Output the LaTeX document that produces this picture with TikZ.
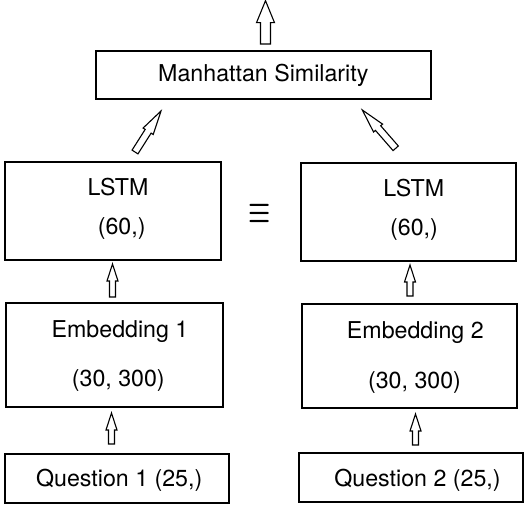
\documentclass[tikz,border=0pt]{standalone}
\usepackage{fontspec}
\setmainfont{TeX Gyre Heros}
\usetikzlibrary{calc}
\tikzset{
  box/.style={draw=black, line width=1.2pt, rectangle, inner sep=0pt},
  txt/.style={anchor=base, inner sep=0pt, font=\fontsize{23.2}{28}\selectfont},
  blockline/.style={draw=black, line width=1.1pt, line join=miter, fill=white},
  eqsign/.style={inner sep=0pt, yscale=1.45, font=\fontsize{27}{27}\selectfont\boldmath},
}
% hollow block arrow from named tail #1 to named tip #2
% #3 half shaft width, #4 half head width, #5 head length
\newcommand\blockarrow[5]{%
  \path ($(#2)!#5!(#1)$) coordinate (hb);
  \draw[blockline] ($(#1)!#3!90:(#2)$) -- ($(hb)!#3!90:(#2)$) -- ($(hb)!#4!90:(#2)$)
     -- (#2) -- ($(hb)!#4!-90:(#2)$) -- ($(hb)!#3!-90:(#2)$) -- ($(#1)!#3!-90:(#2)$) -- cycle;
}
\begin{document}
\begin{tikzpicture}[x=1pt,y=1pt]
\useasboundingbox (0,0) rectangle (526,509);
\fill[white] (0,0) rectangle (526,509);

% boxes
\node[box, minimum width=335pt, minimum height=48pt] (manh) at (263.5,434) {};
\node[box, minimum width=216pt, minimum height=98pt] (lstm1) at (113,298) {};
\node[box, minimum width=215pt, minimum height=98pt] (lstm2) at (408.5,297) {};
\node[box, minimum width=217pt, minimum height=104pt] (emb1) at (114.5,154) {};
\node[box, minimum width=215pt, minimum height=104pt] (emb2) at (409.5,153) {};
\node[box, minimum width=224pt, minimum height=49pt] (q1) at (117,30.5) {};
\node[box, minimum width=224pt, minimum height=49pt] (q2) at (411,31.5) {};

% texts
\node[txt] (tmanh) at (263.3,427.3) {Manhattan Similarity};
\node[txt] (tlstm1) at (118,313) {LSTM};
\node[txt] (tdim1) at (121.7,275) {(60,)};
\node[txt] (tlstm2) at (413.8,312.5) {LSTM};
\node[txt] (tdim2) at (414,274) {(60,)};
\node[txt] (temb1) at (120,171.7) {Embedding 1};
\node[txt] (tedim1) at (118.3,122.5) {(30, 300)};
\node[txt] (temb2) at (415.3,170.7) {Embedding 2};
\node[txt] (tedim2) at (414.5,121) {(30, 300)};
\node[txt] (tq1) at (119.2,22.3) {Question 1 (25,)};
\node[txt] (tq2) at (417.5,22.3) {Question 2 (25,)};

% equivalence sign
\node[eqsign] (eq) at (260,295.5) {$\equiv$};

% arrow end points
\coordinate (a0t) at (265.5,465);
\coordinate (a0h) at (265.5,508.3);
\coordinate (a1t) at (135,357);
\coordinate (a1h) at (161,398);
\coordinate (a2t) at (395.7,360.7);
\coordinate (a2h) at (362.3,399);
\coordinate (a3t) at (112.5,212);
\coordinate (a3h) at (112.5,245);
\coordinate (a4t) at (410,213);
\coordinate (a4h) at (410,244);
\coordinate (a5t) at (111.5,65);
\coordinate (a5h) at (111.5,96);
\coordinate (a6t) at (415.5,64);
\coordinate (a6h) at (415.5,95);

\blockarrow{a0t}{a0h}{5pt}{9pt}{22pt}
\blockarrow{a1t}{a1h}{3.5pt}{6pt}{24pt}
\blockarrow{a2t}{a2h}{3.5pt}{6pt}{24pt}
\blockarrow{a3t}{a3h}{3pt}{5.5pt}{17pt}
\blockarrow{a4t}{a4h}{3pt}{5.5pt}{17pt}
\blockarrow{a5t}{a5h}{3pt}{5.5pt}{17pt}
\blockarrow{a6t}{a6h}{3pt}{5.5pt}{17pt}
\end{tikzpicture}
\end{document}
